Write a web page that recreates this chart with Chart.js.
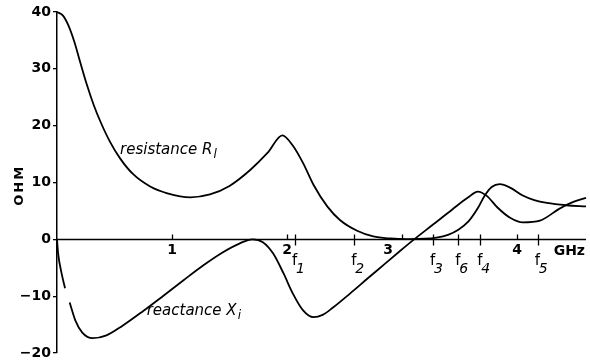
<!DOCTYPE html>
<html>
<head>
<meta charset="utf-8">
<script src="https://cdn.jsdelivr.net/npm/chart.js@4"></script>
<style>
  html, body { margin: 0; padding: 0; background: #fff; }
  canvas { display: block; }
</style>
</head>
<body>
<canvas id="chart" width="590" height="364"></canvas>
<script>
// ── Data: input impedance vs frequency ───────────────────────────────────────
// resistance R_l (ohm) sampled along the frequency axis (GHz)
const resFreq = [0, 0.05, 0.10, 0.15, 0.20, 0.26, 0.32, 0.38, 0.46, 0.55, 0.66, 0.81, 0.96, 1.16, 1.33,
                 1.50, 1.68, 1.83, 1.96, 2.05, 2.14, 2.23, 2.35, 2.46, 2.61, 2.75, 2.90, 3.05, 3.20,
                 3.30, 3.40, 3.49, 3.58, 3.66, 3.72, 3.78, 3.85, 3.94, 4.05, 4.15, 4.26, 4.43, 4.60];
const resOhm  = [40, 39.4, 37.6, 34.8, 31.3, 27.2, 23.6, 20.6, 17.2, 14.2, 11.5, 9.3, 8.1, 7.4, 7.9,
                 9.4, 12.2, 15.2, 18.3, 16.5, 13.4, 9.6, 5.8, 3.4, 1.5, 0.5, 0.15, 0.05, 0.1,
                 0.3, 0.8, 1.7, 3.2, 5.5, 7.7, 9.2, 9.7, 9.1, 7.7, 6.9, 6.4, 6.0, 5.8];

// reactance X_i (ohm); the null leaves the short break in the trace near 0.09 GHz
const reaFreq = [0, 0.01, 0.04, 0.07, 0.09, 0.11, 0.16, 0.22, 0.31, 0.43, 0.57, 0.75, 0.92, 1.10, 1.27,
                 1.44, 1.59, 1.70, 1.79, 1.88, 1.97, 2.05, 2.14, 2.23, 2.31, 2.40, 2.55, 2.70, 2.84,
                 2.98, 3.10, 3.27, 3.44, 3.57, 3.66, 3.74, 3.83, 3.94, 4.05, 4.20, 4.37, 4.49, 4.60];
const reaOhm  = [0, -2.5, -6, -8.6, null, -11.1, -14.3, -16.4, -17.4, -16.9, -15.2, -12.6, -10.0, -7.2, -4.6,
                 -2.3, -0.7, 0, -0.5, -2.5, -6, -9.5, -12.5, -13.7, -13.3, -12.0, -9.5, -6.9, -4.5,
                 -2.1, -0.1, 2.6, 5.3, 7.3, 8.4, 7.6, 5.6, 3.8, 3.0, 3.3, 5.4, 6.6, 7.3];

// frequency axis ticks and the marked frequencies f1..f6
const ghzTicks  = [1, 2, 3, 4];
const ghzLabels = ['1', '2', '3', '4'];
const markFreq  = [2.07, 2.585, 3.27, 3.68, 4.18, 3.49];
const markNames = ['1', '2', '3', '4', '5', '6'];

const FONT = 'DejaVu Sans';

function toPoints(xs, ys) {
  return xs.map((x, i) => ({ x, y: ys[i] }));
}

// ── Frequency axis, markers and text labels ──────────────────────────────────
const decor = {
  id: 'decor',
  afterDatasetsDraw(chart) {
    const { ctx, chartArea: a, scales: { x, y } } = chart;
    const y0 = Math.round(y.getPixelForValue(0)) + 0.5;
    ctx.save();
    ctx.strokeStyle = '#000';
    ctx.fillStyle = '#000';

    // horizontal axis through zero
    ctx.lineWidth = 1.5;
    ctx.beginPath();
    ctx.moveTo(a.left, y0);
    ctx.lineTo(a.right, y0);
    ctx.stroke();

    // integer GHz ticks point up, f-markers cross the axis
    ctx.lineWidth = 1.3;
    ctx.beginPath();
    ghzTicks.forEach(v => {
      const px = Math.round(x.getPixelForValue(v)) + 0.5;
      ctx.moveTo(px, y0 - 5);
      ctx.lineTo(px, y0);
    });
    markFreq.forEach(v => {
      const px = Math.round(x.getPixelForValue(v)) + 0.5;
      ctx.moveTo(px, y0 - 5);
      ctx.lineTo(px, y0 + 6);
    });
    ctx.stroke();

    // GHz tick labels ("3" sits left of its tick, clear of the curve)
    ctx.font = `bold 14px "${FONT}"`;
    ctx.textAlign = 'center';
    ctx.textBaseline = 'top';
    ghzTicks.forEach((v, i) => {
      const shift = v === 3 ? -14 : 0;
      ctx.fillText(ghzLabels[i], x.getPixelForValue(v) + shift, y0 + 4);
    });
    ctx.textAlign = 'right';
    ctx.fillText('GHz', a.right - 1, y0 + 5);

    // f markers with subscripts
    ctx.textBaseline = 'alphabetic';
    ctx.textAlign = 'left';
    markFreq.forEach((v, i) => {
      const px = x.getPixelForValue(v);
      ctx.font = `15px "${FONT}"`;
      ctx.fillText('f', px - 3, y0 + 25);
      ctx.font = `oblique 14px "${FONT}"`;
      ctx.fillText(markNames[i], px + 1, y0 + 33);
    });

    // curve names
    const label = (f, ohm, main, sub) => {
      const px = x.getPixelForValue(f);
      const py = y.getPixelForValue(ohm);
      ctx.font = `oblique 15px "${FONT}"`;
      ctx.fillText(main, px, py);
      const w = ctx.measureText(main).width;
      ctx.font = `oblique 12px "${FONT}"`;
      ctx.fillText(sub, px + w + 1, py + 4);
    };
    label(0.548, 15.1, 'resistance R', 'l');
    label(0.78, -13.4, 'reactance X', 'i');

    // vertical axis title
    ctx.translate(20, y.getPixelForValue(9.5));
    ctx.rotate(-Math.PI / 2);
    ctx.font = `bold 13px "${FONT}"`;
    ctx.letterSpacing = '2px';
    ctx.textAlign = 'center';
    ctx.textBaseline = 'middle';
    ctx.fillText('OHM', 0, 0);
    ctx.restore();
  }
};

const lineStyle = {
  borderColor: '#000',
  borderWidth: 1.8,
  pointRadius: 0,
  fill: false,
  cubicInterpolationMode: 'monotone',
  spanGaps: false,
  clip: false,
};

new Chart(document.getElementById('chart'), {
  type: 'line',
  data: {
    datasets: [
      { label: 'resistance', data: toPoints(resFreq, resOhm), ...lineStyle },
      { label: 'reactance',  data: toPoints(reaFreq, reaOhm), ...lineStyle },
    ],
  },
  options: {
    responsive: false,
    animation: false,
    devicePixelRatio: 1,
    events: [],
    layout: { padding: { left: 0, top: 12, right: 4, bottom: 11 } },
    scales: {
      x: { type: 'linear', min: 0, max: 4.6, display: false },
      y: {
        min: -20, max: 40,
        afterFit(s) { s.width = 57; },
        border: { display: true, color: '#000', width: 1.5 },
        grid: { drawOnChartArea: false, drawTicks: true, tickLength: 4, color: '#000', lineWidth: 1.3 },
        ticks: {
          stepSize: 10,
          color: '#000',
          padding: 2,
          font: { family: FONT, size: 14, weight: 'bold' },
          callback: v => (v < 0 ? '\u2212' + (-v) : String(v)),
        },
      },
    },
    plugins: { legend: { display: false }, tooltip: { enabled: false } },
  },
  plugins: [decor],
});
</script>
</body>
</html>
